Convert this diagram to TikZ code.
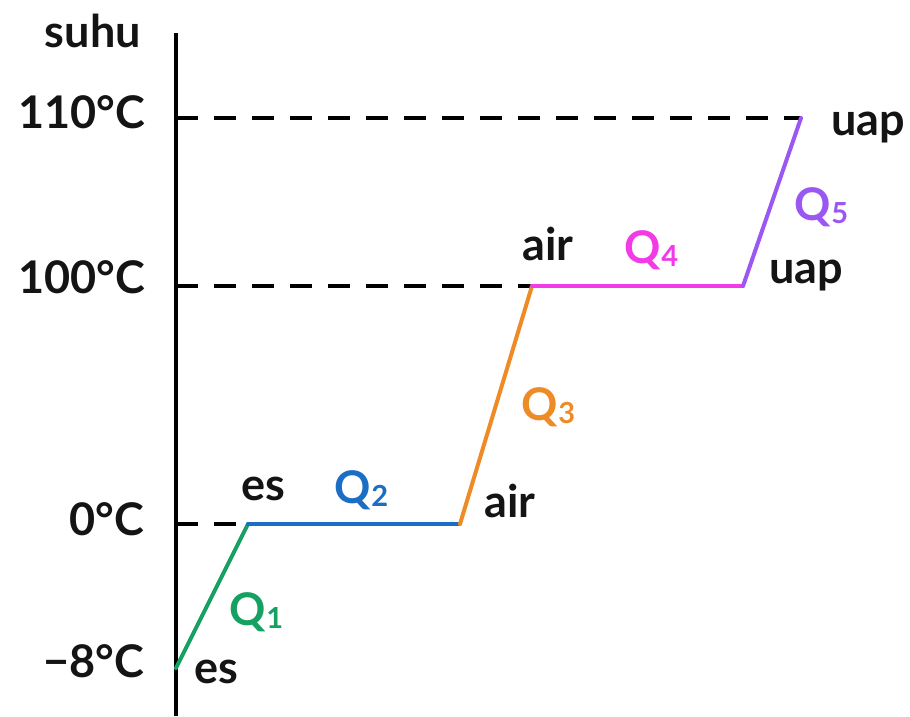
\documentclass[tikz,border=0pt]{standalone}
\usepackage{fontspec}
\setmainfont{Lato}
\definecolor{qone}{HTML}{16A163}
\definecolor{qtwo}{HTML}{1C6EC4}
\definecolor{qthree}{HTML}{EE8B26}
\definecolor{qfour}{HTML}{F23BE6}
\definecolor{qfive}{HTML}{9A57F2}
\newcommand\qlab[1]{Q\kern0.02em\raisebox{-0.07em}{\fontsize{29}{29}\selectfont #1}}
\begin{document}
\begin{tikzpicture}[x=1pt,y=-1pt,
  lbl/.style={font=\fontsize{45}{45}\selectfont\bfseries, inner sep=0pt, text=black!92},
  qlbl/.style={font=\fontsize{45}{45}\selectfont\bfseries, inner sep=0pt},
  axisline/.style={line width=4pt},
  guide/.style={line width=3.5pt, dash pattern=on 22pt off 16pt},
  seg/.style={line width=4pt, line join=round, line cap=round}]
\useasboundingbox (0,0) rectangle (910,716);
% points
\coordinate (top) at (176,33);
\coordinate (bot) at (176,716);
\coordinate (y110) at (176,118);
\coordinate (y100) at (176,286);
\coordinate (y0) at (176,524);
\coordinate (a) at (176,668);
\coordinate (b) at (248,524);
\coordinate (c) at (460,524);
\coordinate (d) at (532,286);
\coordinate (e) at (743,286);
\coordinate (f) at (801,118);
% axis and guides
\draw[axisline] (top) -- (bot);
\draw[guide] (y110) -- (f);
\draw[guide] (y100) -- (d);
\draw[guide] (y0) -- (b);
% heating curve
\draw[seg, qone] (a) -- (b);
\draw[seg, qtwo] (b) -- (c);
\draw[seg, qthree] (c) -- (d);
\draw[seg, qfour] (d) -- (e);
\draw[seg, qfive] (e) -- (f);
% axis labels
\node[lbl, anchor=base east] (lsuhu) at (141,47) {suhu};
\node[lbl, anchor=base east] (l110) at (145,128) {110°C};
\node[lbl, anchor=base east] (l100) at (145,293) {100°C};
\node[lbl, anchor=base east] (l0) at (144,535) {0°C};
\node[lbl, anchor=base east] (lm8) at (144,677) {−8°C};
% state labels
\node[lbl, anchor=base west] (es1) at (194,683) {es};
\node[lbl, anchor=base west] (es2) at (241,500) {es};
\node[lbl, anchor=base west] (air1) at (484,517) {air};
\node[lbl, anchor=base west] (air2) at (522,260) {air};
\node[lbl, anchor=base west] (uap1) at (769,283) {uap};
\node[lbl, anchor=base west] (uap2) at (831,135) {uap};
% heat labels
\node[qlbl, text=qone, anchor=base west] (q1) at (229,625) {\qlab{1}};
\node[qlbl, text=qtwo, anchor=base west] (q2) at (334,503) {\qlab{2}};
\node[qlbl, text=qthree, anchor=base west] (q3) at (521,420) {\qlab{3}};
\node[qlbl, text=qfour, anchor=base west] (q4) at (624,263) {\qlab{4}};
\node[qlbl, text=qfive, anchor=base west] (q5) at (794,220) {\qlab{5}};
\end{tikzpicture}
\end{document}
